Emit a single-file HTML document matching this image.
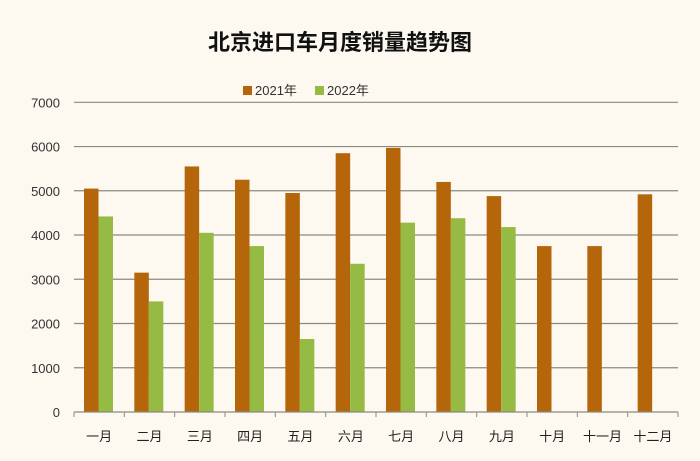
<!DOCTYPE html>
<html><head><meta charset="utf-8"><style>
body{margin:0;background:#fdf9f0;}
svg{display:block;font-family:"Liberation Sans","Noto Sans CJK SC",sans-serif;}
</style></head><body>
<svg id="c" width="700" height="461" viewBox="0 0 700 461">
<rect width="700" height="461" fill="#fdf9f0"/>
<text x="340" y="50" text-anchor="middle" font-size="22" font-weight="bold" fill="#111">北京进口车月度销量趋势图</text>
<g>
<g><rect x="243" y="86" width="9" height="9" fill="#b5650a"/><text x="255" y="95" font-size="13" fill="#333">2021年</text></g>
<g><rect x="315" y="86" width="9" height="9" fill="#95bb45"/><text x="327" y="95" font-size="13" fill="#333">2022年</text></g>
</g>
<g id="grid"></g><g id="bars"></g><g id="axes"></g>
</svg>
<script>
const categories=["一月","二月","三月","四月","五月","六月","七月","八月","九月","十月","十一月","十二月"];
const values2021=[5050,3150,5550,5250,4950,5850,5970,5200,4880,3750,3750,4920];
const values2022=[4420,2500,4050,3750,1650,3350,4280,4380,4180,null,null,null];
const yTicks=[0,1000,2000,3000,4000,5000,6000,7000];
const NS="http://www.w3.org/2000/svg";
const x0=74,x1=678,yTop=102.3,yBot=412,yMax=7000;
const cw=(x1-x0)/categories.length;
function y(v){return yBot-(v/yMax)*(yBot-yTop);}
function xc(i){return x0+i*cw;}
function mk(t,a,p){const e=document.createElementNS(NS,t);for(const k in a)e.setAttribute(k,a[k]);p.appendChild(e);return e;}
const grid=document.getElementById('grid'),bars=document.getElementById('bars'),axes=document.getElementById('axes');
yTicks.forEach(v=>{
  if(v>0){const l=mk('line',{x1:x0,x2:x1,y1:y(v),y2:y(v),stroke:'#8a8a80','stroke-width':1.2},grid);
  
  }
  const t=mk('text',{x:60,y:y(v)+5,'text-anchor':'end','font-size':13,fill:'#333'},axes);t.textContent=v;
  
  
});
const bw=14.5;
categories.forEach((c,i)=>{
  const bx=xc(i)+10;
  if(values2021[i]!=null){const r=mk('rect',{x:bx,y:y(values2021[i]),width:bw,height:yBot-y(values2021[i]),fill:'#b5650a'},bars);
  
  }
  if(values2022[i]!=null){const r=mk('rect',{x:bx+bw,y:y(values2022[i]),width:bw,height:yBot-y(values2022[i]),fill:'#95bb45'},bars);
  
  }
  const t=mk('text',{x:xc(i)+cw/2,y:441,'text-anchor':'middle','font-size':13,fill:'#222'},axes);t.textContent=c;
  
  
});
const ax=mk('line',{x1:x0,x2:x1,y1:yBot,y2:yBot,stroke:'#8a8a80','stroke-width':1.2},axes);


for(let i=0;i<=categories.length;i++){const tk=mk('line',{x1:xc(i),x2:xc(i),y1:yBot,y2:yBot+5,stroke:'#8a8a80'},axes);
  
  }
</script>
</body></html>
